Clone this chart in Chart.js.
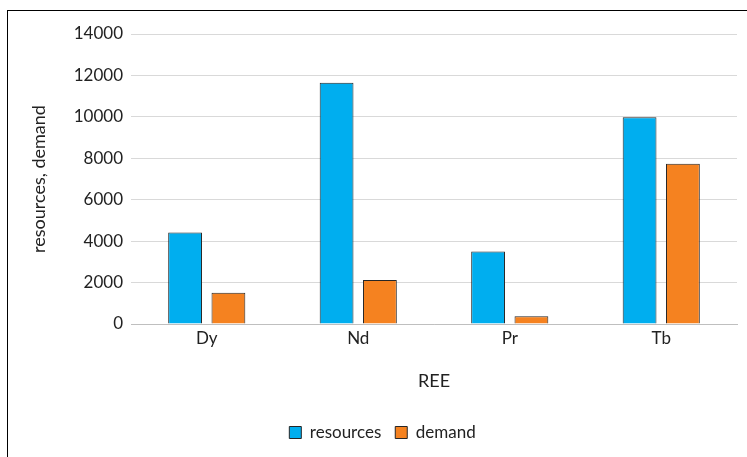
<!DOCTYPE html>
<html>
<head>
<meta charset="utf-8">
<script src="https://cdn.jsdelivr.net/npm/chart.js@4"></script>
<style>
    html, body { margin: 0; padding: 0; background: #fff; }
    #wrap { position: relative; width: 747px; height: 457px; }
    #frame { position: absolute; left: 7px; top: 10px; width: 745px; height: 460px; border: 1px solid #000; box-sizing: border-box; pointer-events: none; }
</style>
</head>
<body>
<div id="wrap">
    <canvas id="reeChart" width="747" height="457"></canvas>
    <div id="frame"></div>
</div>
<script>
// Chart data
const categories = ['Dy', 'Nd', 'Pr', 'Tb'];
const resources = [4420, 11650, 3500, 9980];
const demand = [1510, 2120, 380, 7740];
const yTicks = [0, 2000, 4000, 6000, 8000, 10000, 12000, 14000];

const fontFamily = 'Lato, "Open Sans", sans-serif';

const ctx = document.getElementById('reeChart').getContext('2d');

new Chart(ctx, {
    type: 'bar',
    data: {
        labels: categories,
        datasets: [{
            label: 'resources',
            data: resources,
            backgroundColor: '#00AEEF',
            borderColor: '#262626',
            borderWidth: 1
        }, {
            label: 'demand',
            data: demand,
            backgroundColor: '#F58220',
            borderColor: '#262626',
            borderWidth: 1
        }]
    },
    options: {
        responsive: false,
        animation: false,
        layout: {
            padding: { left: 28, right: 10, top: 34, bottom: 6 }
        },
        datasets: {
            bar: {
                categoryPercentage: 0.572,
                barPercentage: 0.78
            }
        },
        scales: {
            x: {
                grid: { display: false, drawTicks: false },
                border: { display: true, color: '#bfbfbf', width: 1 },
                ticks: {
                    color: '#222',
                    font: { family: fontFamily, size: 17 },
                    padding: 4
                },
                title: {
                    display: true,
                    text: 'REE',
                    color: '#222',
                    font: { family: fontFamily, size: 18 },
                    padding: { top: 18, bottom: 18 }
                }
            },
            y: {
                min: 0,
                max: 14000,
                afterBuildTicks: function (scale) {
                    scale.ticks = yTicks.map(v => ({ value: v }));
                },
                afterFit: function (scale) {
                    scale.width = 103;
                },
                grid: {
                    color: '#d9d9d9',
                    lineWidth: 1,
                    drawTicks: false
                },
                border: { display: false },
                ticks: {
                    color: '#222',
                    font: { family: fontFamily, size: 17 },
                    padding: 8,
                    callback: function (value) {
                        return String(value);
                    }
                },
                title: {
                    display: true,
                    text: 'resources, demand',
                    color: '#222',
                    font: { family: fontFamily, size: 18 },
                    padding: 0
                }
            }
        },
        plugins: {
            legend: {
                position: 'bottom',
                labels: {
                    color: '#222',
                    font: { family: fontFamily, size: 17 },
                    boxWidth: 12,
                    boxHeight: 12,
                    padding: 14
                }
            },
            tooltip: { enabled: false }
        }
    }
});
</script>
</body>
</html>
